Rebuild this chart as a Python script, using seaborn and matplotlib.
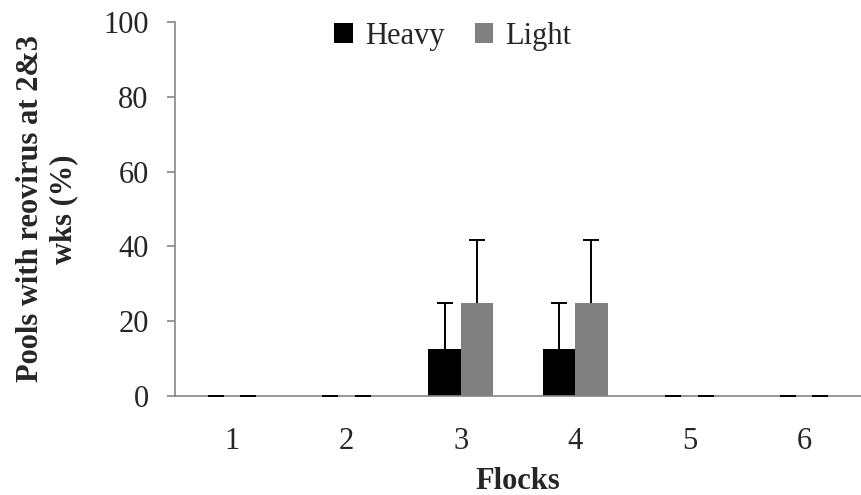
import numpy as np
import pandas as pd
import matplotlib
matplotlib.use("Agg")
import matplotlib.pyplot as plt
import seaborn as sns

# Flock-level percentages of reovirus-positive pools
flocks = ["1", "2", "3", "4", "5", "6"]
heavy = [0, 0, 12.5, 12.5, 0, 0]
light = [0, 0, 25, 25, 0, 0]
heavy_err = [0, 0, 12.5, 12.5, 0, 0]
light_err = [0, 0, 16.7, 16.7, 0, 0]
groups = ["Heavy", "Light"]
colors = ["#000000", "#808080"]

df = pd.DataFrame({
    "Flock": flocks * 2,
    "Type": ["Heavy"] * len(flocks) + ["Light"] * len(flocks),
    "Value": heavy + light,
})
errs = {"Heavy": heavy_err, "Light": light_err}

sns.set_style("white")
plt.rcParams["font.family"] = ["Liberation Serif", "DejaVu Serif"]

FS = 22

fig = plt.figure(figsize=(8.61, 4.95), dpi=100)
ax = fig.add_axes([175 / 861, 99 / 495, 686 / 861, 374 / 495])

sns.barplot(data=df, x="Flock", y="Value", hue="Type", hue_order=groups,
            palette=colors, errorbar=None, width=0.57, saturation=1,
            ax=ax, linewidth=0)

# one-sided (upper) error bars; only the upper cap is shown
for container, g in zip(ax.containers, groups):
    xs = [p.get_x() + p.get_width() / 2 for p in container]
    ys = [p.get_height() for p in container]
    _, caps, _ = ax.errorbar(xs, ys, yerr=[np.zeros(len(ys)), errs[g]],
                             fmt="none", ecolor="black", elinewidth=1.4,
                             capsize=6, capthick=1.4, zorder=3)
    caps[0].set_visible(False)

ax.set_ylim(0, 100)
ax.set_yticks(np.arange(0, 101, 20))
ax.set_xlim(-0.5, -0.5 + 686 / 115.5)

spine_color = "#868686"
for side in ["top", "right"]:
    ax.spines[side].set_visible(False)
for side in ["left", "bottom"]:
    ax.spines[side].set_color(spine_color)
    ax.spines[side].set_linewidth(1.2)

# category boundaries get the x ticks
ax.set_xticks(np.arange(-0.5, 6.0, 1.0), minor=True)
ax.tick_params(axis="x", which="major", length=0, labelsize=FS, pad=22)
ax.tick_params(axis="x", which="minor", length=7, width=1.2,
               color=spine_color, direction="out")
ax.tick_params(axis="y", length=6, width=1.2, color=spine_color,
               direction="out", labelsize=FS, pad=13, left=True)

ax.set_xlabel("Flocks", fontsize=FS, fontweight="bold", labelpad=8)
ax.set_ylabel("Pools with reovirus at 2&3\nwks (%)", fontsize=FS,
              fontweight="bold", labelpad=18, linespacing=1.2)

ax.legend(loc="upper center", bbox_to_anchor=(0.405, 1.05), ncol=2,
          frameon=False, fontsize=FS, handlelength=0.6, handleheight=0.6,
          handletextpad=0.4, columnspacing=1.0, title=None,
          borderaxespad=0.2)

fig.savefig("out.png", dpi=100)
